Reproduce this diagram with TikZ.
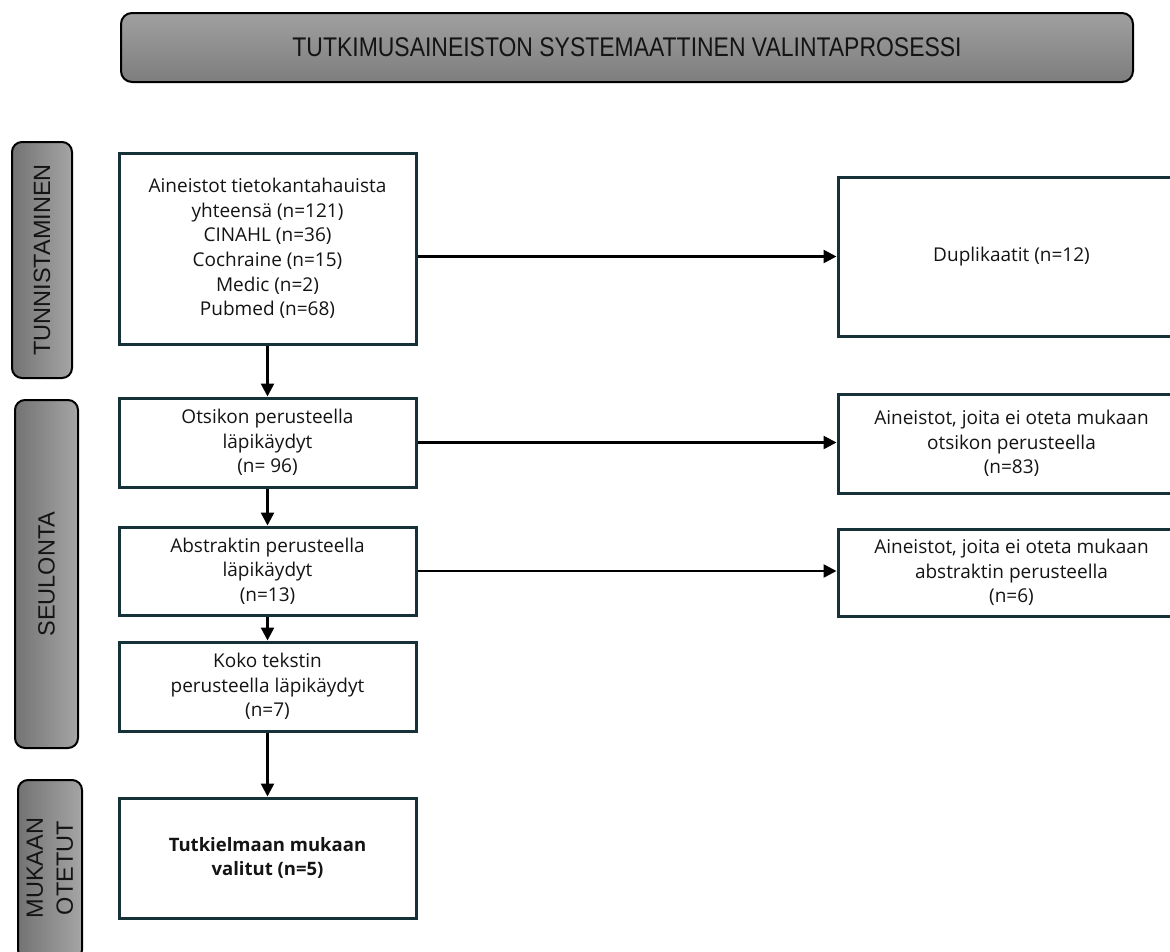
\documentclass[tikz,border=0pt]{standalone}
\usepackage{fontspec}
\setmainfont{Open Sans}
\newfontfamily\labfont{Liberation Sans}
\usetikzlibrary{arrows.meta}
\definecolor{boxline}{HTML}{163238}
\definecolor{txt}{HTML}{141414}
\tikzset{
  flowbox/.style={draw=boxline, line width=3pt, fill=white, inner sep=0pt, align=center,
    text=txt, font=\fontsize{19}{24.6}\selectfont},
  conn/.style={line width=2.5pt, draw=black, -{Triangle[length=13pt,width=13pt]}},
  phase/.style={draw=black, line width=2pt, rounded corners=10pt,
    left color={rgb,255:red,115;green,115;blue,115}, right color={rgb,255:red,165;green,165;blue,165}, inner sep=0pt},
  phasetext/.style={rotate=90, align=center, text=txt, inner sep=0pt,
    font=\labfont\fontsize{23.5}{30}\selectfont},
  titlebox/.style={draw=black, line width=2pt, rounded corners=11pt,
    top color={rgb,255:red,160;green,160;blue,160}, bottom color={rgb,255:red,125;green,125;blue,125},
    inner sep=0pt, text=txt, font=\labfont\fontsize{27}{30}\selectfont}
}
\begin{document}
\begin{tikzpicture}[x=1pt,y=-1pt]
\useasboundingbox (0,0) rectangle (1170,951);
\clip (0,0) rectangle (1170,951);

% title
\node[titlebox, minimum width=1012pt, minimum height=69pt] (T) at (627,47.5)
  {\scalebox{0.85}[1]{TUTKIMUSAINEISTON SYSTEMAATTINEN VALINTAPROSESSI}};

% phase labels
\node[phase, minimum width=60pt, minimum height=236pt] (P1) at (42,260) {};
\node[phasetext] (P1t) at (P1.center) {TUNNISTAMINEN};
\node[phase, minimum width=63pt, minimum height=348pt] (P2) at (46.5,574) {};
\node[phasetext] (P2t) at (P2.center) {SEULONTA};
\node[phase, minimum width=64pt, minimum height=180pt] (P3) at (50,870) {};
\node[phasetext] (P3t) at (50,868) {MUKAAN\\OTETUT};

% main column
\node[flowbox, minimum width=297pt, minimum height=191pt] (B1) at (267.5,248.5)
  {Aineistot tietokantahauista\\yhteensä (n=121)\\CINAHL (n=36)\\Cochraine (n=15)\\Medic (n=2)\\Pubmed (n=68)};
\node[flowbox, minimum width=297pt, minimum height=89pt] (B2) at (267.5,442.5)
  {Otsikon perusteella\\läpikäydyt\\(n= 96)};
\node[flowbox, minimum width=297pt, minimum height=88pt] (B3) at (267.5,571)
  {Abstraktin perusteella\\läpikäydyt\\(n=13)};
\node[flowbox, minimum width=297pt, minimum height=89pt] (B4) at (267.5,686.5)
  {Koko tekstin\\perusteella läpikäydyt\\(n=7)};
\node[flowbox, minimum width=297pt, minimum height=120pt, font=\bfseries\fontsize{18.5}{24.6}\selectfont] (B5) at (267.5,858)
  {Tutkielmaan mukaan\\valitut (n=5)};

% right column
\node[flowbox, minimum width=347pt, minimum height=159pt] (R1) at (1011.5,256.5)
  {Duplikaatit (n=12)};
\node[flowbox, minimum width=347pt, minimum height=99pt] (R2) at (1011.5,443.5)
  {Aineistot, joita ei oteta mukaan\\otsikon perusteella\\(n=83)};
\node[flowbox, minimum width=347pt, minimum height=87pt] (R3) at (1011.5,572.5)
  {Aineistot, joita ei oteta mukaan\\abstraktin perusteella\\(n=6)};

% connectors
\draw[conn] (B1.south) -- (B2.north);
\draw[conn] (B2.south) -- (B3.north);
\draw[conn] (B3.south) -- (B4.north);
\draw[conn] (B4.south) -- (B5.north);
\draw[conn] (B1.east |- R1.west) -- (R1.west);
\draw[conn] (B2.east) -- (B2.east -| R2.west);
\draw[conn] (B3.east) -- (B3.east -| R3.west);
\end{tikzpicture}
\end{document}
